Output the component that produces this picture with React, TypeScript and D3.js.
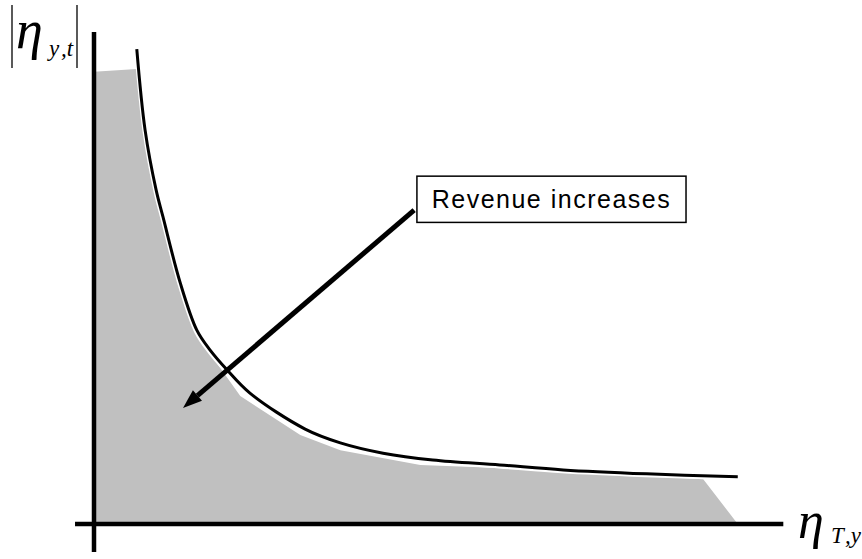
import React from "react";
import * as d3 from "d3";

// Demand curve (abstract units, 0..100 on each axis)
const curveX = [6.2, 7.4, 9.0, 10.0, 12.5, 14.9, 16.8, 19.3, 22.6, 30.6, 35.7, 41.9, 49.1, 58.8, 68.0, 80.1, 93.3];
const curveY = [96.5, 80.1, 67.9, 62.4, 49.0, 39.4, 35.4, 31.3, 26.6, 19.3, 16.5, 14.4, 13.0, 12.0, 11.0, 10.2, 9.6];

// Shaded region outline
const fillX = [0, 6.2, 7.2, 8.1, 8.8, 9.9, 12.3, 14.9, 21.2, 29.9, 35.7, 47.3, 58.8, 88.3, 93.3, 0];
const fillY = [91.9, 92.5, 80.1, 73.0, 67.9, 62.4, 48.6, 38.4, 26.0, 18.1, 15.0, 12.0, 11.4, 9.1, 0, 0];

const annotationText = "Revenue increases";
const arrowFrom = [46.4, 63.8];
const arrowTo = [12.9, 23.6];
const boxX = [46.8, 85.8];
const boxY = [61.3, 70.7];

export default function App() {
  const W = 862, H = 559;
  const x = d3.scaleLinear().domain([0, 100]).range([94, 784]);
  const y = d3.scaleLinear().domain([0, 100]).range([524, 32]);

  const curvePts = curveX.map((v, i) => [v, curveY[i]] as [number, number]);
  const line = d3.line<[number, number]>().x(d => x(d[0])).y(d => y(d[1])).curve(d3.curveCatmullRom.alpha(0.5));
  const fillPts = fillX.map((v, i) => [v, fillY[i]] as [number, number]);
  const poly = d3.line<[number, number]>().x(d => x(d[0])).y(d => y(d[1]));

  // arrow geometry
  const x1 = x(arrowFrom[0]), y1 = y(arrowFrom[1]);
  const x2 = x(arrowTo[0]), y2 = y(arrowTo[1]);
  const ang = Math.atan2(y2 - y1, x2 - x1);
  const headLen = 19, headW = 7;
  const bx = x2 - headLen * Math.cos(ang), by = y2 - headLen * Math.sin(ang);
  const px = -Math.sin(ang), py = Math.cos(ang);
  const head = `M${x2},${y2}L${bx + px * headW},${by + py * headW}L${bx - px * headW},${by - py * headW}Z`;

  const serif = "'Liberation Serif', 'Times New Roman', serif";

  return (
    <svg width={W} height={H} style={{ position: "absolute", left: 0, top: 0, background: "#fff" }}>
      <path d={poly(fillPts) + "Z"} fill="#c0c0c0" stroke="none" />
      <path d={line(curvePts) || ""} fill="none" stroke="#ffffff" strokeWidth={2.5} transform="translate(-1.2,2.2)" />
      <path d={line(curvePts) || ""} fill="none" stroke="#000" strokeWidth={3} />
      {/* axes */}
      <line x1={x(0)} x2={x(0)} y1={y(100)} y2={y(-5.7)} stroke="#000" strokeWidth={4.5} />
      <line x1={x(-2.75)} x2={x(99.9)} y1={y(0)} y2={y(0)} stroke="#000" strokeWidth={4.5} />
      {/* arrow */}
      <line x1={x1} y1={y1} x2={bx} y2={by} stroke="#000" strokeWidth={5} />
      <path d={head} fill="#000" />
      {/* annotation box */}
      <rect x={x(boxX[0])} y={y(boxY[1])} width={x(boxX[1]) - x(boxX[0])} height={y(boxY[0]) - y(boxY[1])}
        fill="#fff" stroke="#000" strokeWidth={1.5} />
      <text x={(x(boxX[0]) + x(boxX[1])) / 2} y={y(boxY[0]) - 14} textAnchor="middle"
        fontFamily="'Liberation Sans', Arial, sans-serif" fontSize={25} letterSpacing={1.5}>{annotationText}</text>
      {/* y label |η_{y,t}| */}
      <line x1={12} x2={12} y1={5} y2={68} stroke="#000" strokeWidth={1.3} />
      <line x1={77} x2={77} y1={5} y2={68} stroke="#000" strokeWidth={1.3} />
      <text x={16} y={48} fontFamily={serif} fontStyle="italic" fontSize={54}>η</text>
      <text x={49} y={56} fontFamily={serif} fontStyle="italic" fontSize={23}>y<tspan dx={3}>,t</tspan></text>
      {/* x label η_{T,y} */}
      <text x={798} y={538} fontFamily={serif} fontStyle="italic" fontSize={52}>η</text>
      <text x={831} y={543} fontFamily={serif} fontStyle="italic" fontSize={23}>T<tspan dx={3}>,y</tspan></text>
    </svg>
  );
}
